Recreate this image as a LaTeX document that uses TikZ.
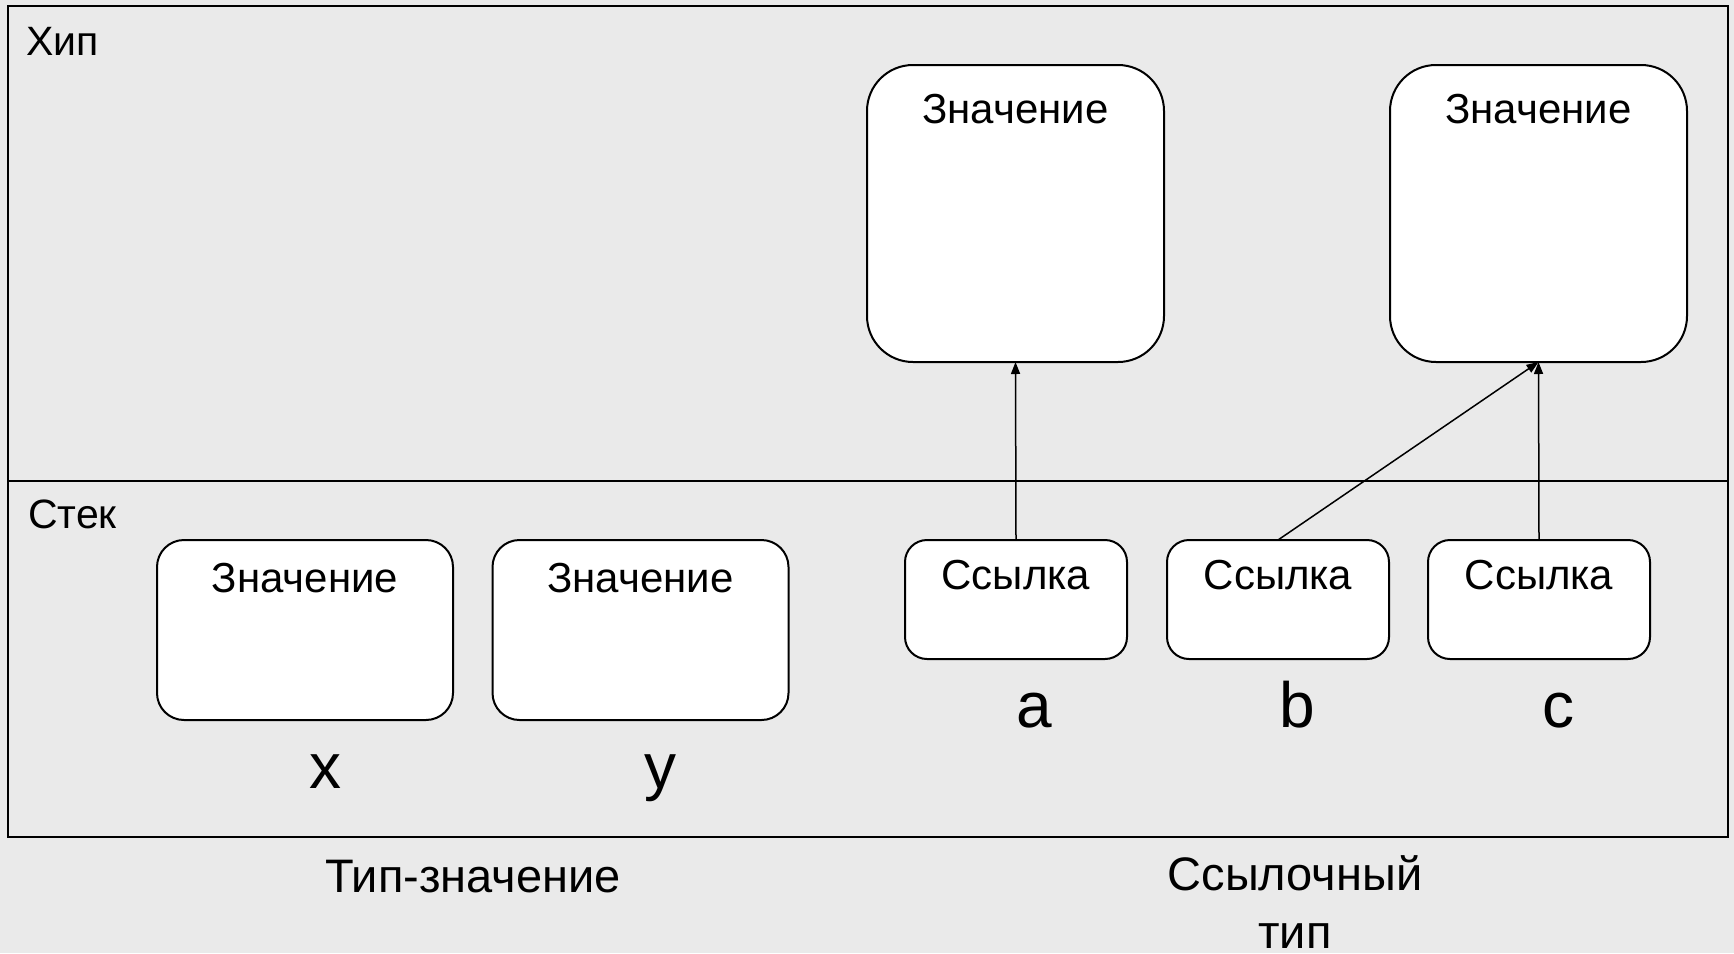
\documentclass[tikz,border=0pt]{standalone}
\usepackage{fontspec}
\setmainfont{Liberation Sans}
\usetikzlibrary{arrows.meta,calc}
\definecolor{bggray}{RGB}{234,234,234}
\tikzset{
  heapbox/.style={draw=black,line width=2pt,fill=white,rounded corners=46pt,minimum width=297pt,minimum height=297pt,inner sep=0pt,outer sep=0pt},
  valbox/.style={draw=black,line width=2pt,fill=white,rounded corners=27pt,minimum width=296pt,minimum height=180pt,inner sep=0pt,outer sep=0pt},
  refbox/.style={draw=black,line width=2pt,fill=white,rounded corners=22pt,minimum width=222pt,minimum height=119pt,inner sep=0pt,outer sep=0pt},
  boxtext/.style={anchor=base,inner sep=0pt,font=\fontsize{42}{48}\selectfont},
  areatext/.style={anchor=base west,inner sep=0pt,font=\fontsize{41}{48}\selectfont},
  vartext/.style={anchor=base,inner sep=0pt,font=\fontsize{64}{70}\selectfont},
  captext/.style={anchor=base,inner sep=0pt,align=center,font=\fontsize{47}{58}\selectfont},
  ptr/.style={line width=1.5pt,-{Triangle[length=12pt,width=9pt]}}
}
\begin{document}
\begin{tikzpicture}[x=1pt,y=-1pt]
\useasboundingbox[fill=bggray] (0,0) rectangle (1734,953);
% areas
\draw[line width=2pt] (8,6) rectangle (1728,837);
\coordinate (divl) at (8,481);
\coordinate (divr) at (1728,481);
\draw[line width=2pt] (divl) -- (divr);
\node[areatext] (heaplbl) at (26,55) {Хип};
\node[areatext] (stacklbl) at (28,528) {Стек};
% heap boxes
\node[heapbox] (h1) at (1015.5,213.5) {};
\node[heapbox] (h2) at (1538.5,213.5) {};
\node[boxtext] (h1t) at ([yshift=-58pt]h1.north) {Значение};
\node[boxtext] (h2t) at ([yshift=-58pt]h2.north) {Значение};
% stack value boxes
\node[valbox] (v1) at (305,630) {};
\node[valbox] (v2) at (640.5,630) {};
\node[boxtext] (v1t) at ([yshift=-52pt]v1.north) {Значение};
\node[boxtext] (v2t) at ([yshift=-52pt]v2.north) {Значение};
% reference boxes
\node[refbox] (r1) at (1016,599.5) {};
\node[refbox] (r2) at (1278,599.5) {};
\node[refbox] (r3) at (1539,599.5) {};
\node[boxtext] (r1t) at ([yshift=-49pt]r1.north) {Ссылка};
\node[boxtext] (r2t) at ([yshift=-49pt]r2.north) {Ссылка};
\node[boxtext] (r3t) at ([yshift=-49pt]r3.north) {Ссылка};
% variable names
\node[vartext] (lx) at (325,788) {x};
\node[vartext] (ly) at (660,788) {y};
\node[vartext] (la) at (1034,727) {a};
\node[vartext] (lb) at (1297,727) {b};
\node[vartext] (lc) at (1558,727) {c};
% captions
\node[captext] (cap1) at (473,892) {Тип-значение};
\node[captext] (cap2) at (1295,890) {Ссылочный};
\node[captext] (cap3) at (1295,948) {тип};
% pointers
\draw[ptr] (r1.north) -- (h1.south);
\draw[ptr] (r2.north) -- (h2.south);
\draw[ptr] (r3.north) -- (h2.south);
\end{tikzpicture}
\end{document}
